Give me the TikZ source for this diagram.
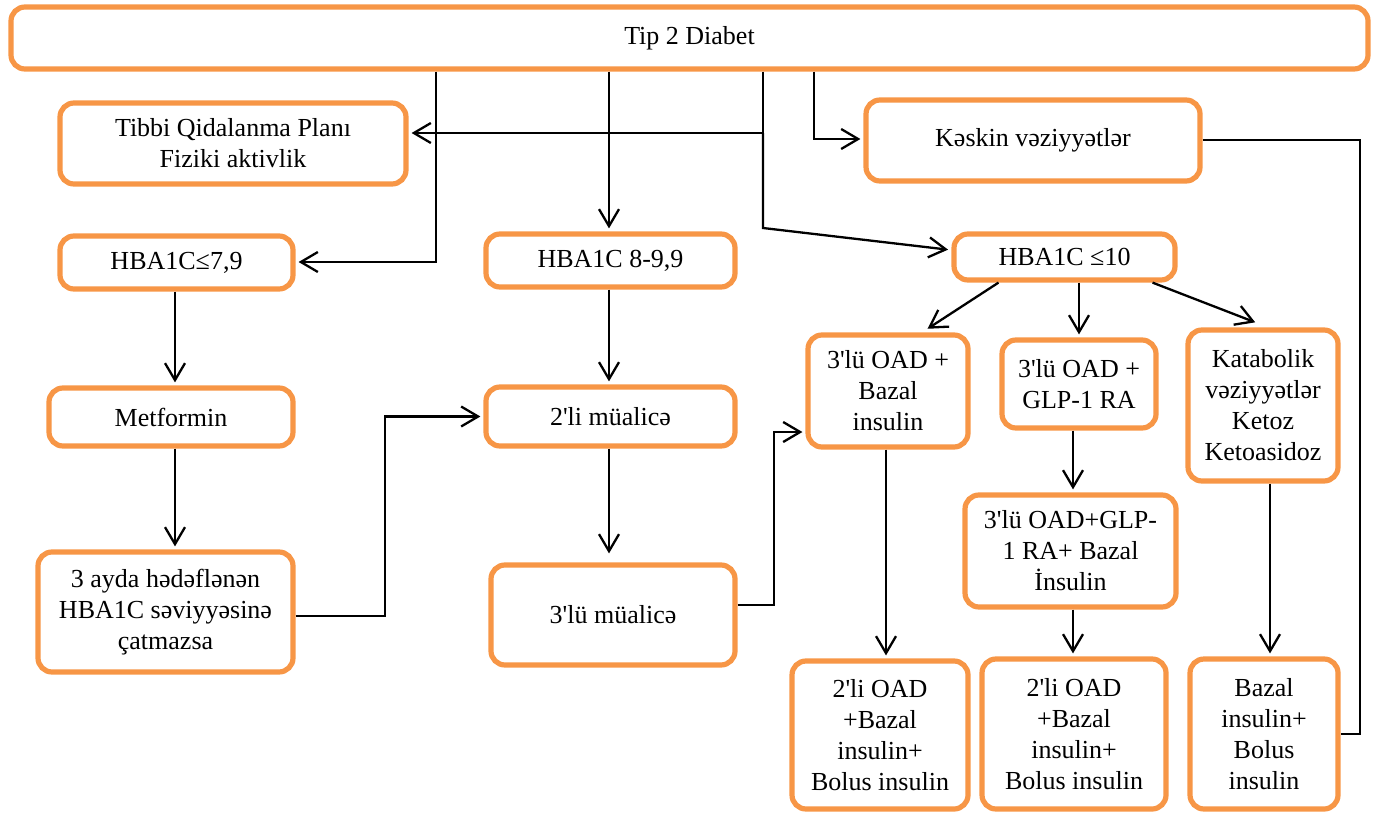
\documentclass[tikz,border=0pt]{standalone}
\usepackage{fontspec}
\setmainfont{Liberation Serif}[Ligatures=TeXOff]
\usetikzlibrary{arrows.meta,calc}
\definecolor{org}{RGB}{247,150,70}
\begin{document}
\begin{tikzpicture}[x=0.5pt,y=-0.5pt,
  box/.style={draw=org, line width=2.6pt, rounded corners=7pt, fill=white,
    align=center, inner sep=0pt, font=\fontsize{13}{15.5}\selectfont},
  conn/.style={line width=1.15pt, draw=black},
  arr/.style={conn, -{Straight Barb[length=8.5pt,width=10pt]}, shorten >=1.5pt}]
\useasboundingbox (0,0) rectangle (1379,813);

\node[box, minimum width=678.5pt, minimum height=31pt] (top) at (689.5,38) {\raisebox{-1.5pt}{Tip 2 Diabet}};
\node[box, minimum width=173pt, minimum height=40.5pt] (tibbi) at (233,143.5) {Tibbi Qidalanma Planı\\Fiziki aktivlik};
\node[box, minimum width=167pt, minimum height=40.5pt] (keskin) at (1033,140.5) {\raisebox{-1pt}{Kəskin vəziyyətlər}};
\node[box, minimum width=116.5pt, minimum height=26.5pt] (h79) at (176.5,262.5) {\raisebox{-1.5pt}{HBA1C≤7,9}};
\node[box, minimum width=124.5pt, minimum height=26.5pt] (h89) at (610.5,260.5) {\raisebox{-1.5pt}{HBA1C 8-9,9}};
\node[box, minimum width=110.5pt, minimum height=23pt] (h10) at (1064.5,257) {HBA1C ≤10};
\node[box, minimum width=122pt, minimum height=29pt] (metf) at (171,417) {Metformin};
\node[box, minimum width=127.5pt, minimum height=60pt] (ayda) at (165.5,612) {3 ayda hədəflənən\\HBA1C səviyyəsinə\\çatmazsa};
\node[box, minimum width=124.5pt, minimum height=29.5pt] (li2) at (610.5,416.5) {2'li müalicə};
\node[box, minimum width=122pt, minimum height=50pt] (lu3) at (613,615) {3'lü müalicə};
\node[box, minimum width=80pt, minimum height=56pt] (oadbaz) at (888,391) {3'lü OAD +\\Bazal\\insulin};
\node[box, minimum width=77pt, minimum height=44pt] (oadglp) at (1079,384) {3'lü OAD +\\GLP-1 RA};
\node[box, minimum width=75pt, minimum height=75.5pt] (katab) at (1263,405.5) {Katabolik\\vəziyyətlər\\Ketoz\\Ketoasidoz};
\node[box, minimum width=105.5pt, minimum height=56pt] (oadglpbaz) at (1070.5,551) {3'lü OAD+GLP-\\1 RA+ Bazal\\İnsulin};
\node[box, minimum width=88pt, minimum height=74pt] (bol1) at (880,735) {2'li OAD\\+Bazal\\insulin+\\Bolus insulin};
\node[box, minimum width=92pt, minimum height=75pt] (bol2) at (1074,734) {2'li OAD\\+Bazal\\insulin+\\Bolus insulin};
\node[box, minimum width=74pt, minimum height=75pt] (bol3) at (1264,734) {Bazal\\insulin+\\Bolus\\insulin};

% junction coordinates
\coordinate (xa) at (436,262);
\coordinate (k1) at (763,133);
\coordinate (k2) at (763,228);
\coordinate (k3) at (814,139);
\coordinate (k4) at (1360,140);
\coordinate (xl) at (175,0);
\coordinate (xm) at (609,0);
\coordinate (k5) at (385,616);
\coordinate (k6a) at (774,605);
\coordinate (k6b) at (774,432);
\coordinate (xr) at (1073,0);
\coordinate (xk) at (1270,0);
\coordinate (xo) at (886,0);
\coordinate (t1) at (951,250);

% connectors
\draw[arr] (top.south -| xa) -- (xa) -- (h79.east |- xa);
\draw[arr] (top.south -| k1) -- (k1) -- (k1 -| tibbi.east);
\draw[arr] (k1) -- (k2) -- (t1);
\draw[arr] (top.south -| xm) -- (h89.north -| xm);
\draw[arr] (top.south -| k3) -- (k3) -- (k3 -| keskin.west);
\draw[conn] (keskin.east |- k4) -- (k4) -- (k4 |- bol3.east) -- (bol3.east);
\draw[arr] (h79.south -| xl) -- (metf.north -| xl);
\draw[arr] (metf.south -| xl) -- (ayda.north -| xl);
\draw[arr] (ayda.east |- k5) -- (k5) -- (k5 |- li2.west) -- (li2.west);
\draw[arr] (h89.south -| xm) -- (li2.north -| xm);
\draw[arr] (li2.south -| xm) -- ($(lu3.north -| xm)+(0,-6)$);
\draw[arr] (lu3.east |- k6a) -- (k6a) -- (k6b) -- (k6b -| oadbaz.west);
\draw[arr] ($(h10.south)+(-66,0)$) -- ($(oadbaz.north)+(37,-2)$);
\draw[arr] (h10.south -| oadglp.north) -- (oadglp.north);
\draw[arr] ($(h10.south)+(88,0)$) -- ($(katab.north)+(-5,-4)$);
\draw[arr] (oadbaz.south -| xo) -- (bol1.north -| xo);
\draw[arr] (oadglp.south -| xr) -- (oadglpbaz.north -| xr);
\draw[arr] (oadglpbaz.south -| xr) -- (bol2.north -| xr);
\draw[arr] (katab.south -| xk) -- (bol3.north -| xk);
\end{tikzpicture}
\end{document}
